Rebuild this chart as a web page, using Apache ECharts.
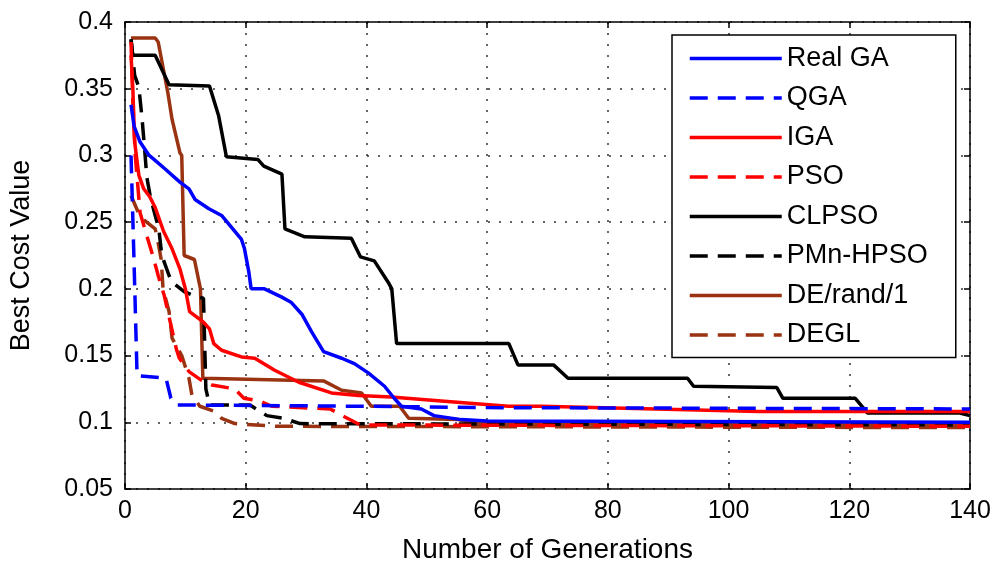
<!DOCTYPE html>
<html><head><meta charset="utf-8">
<script src="https://cdn.jsdelivr.net/npm/echarts@6/dist/echarts.min.js"></script>
<style>html,body{margin:0;padding:0;background:#fff}#c{width:997px;height:569px}</style>
</head><body><div id="c"></div>
<script>
const seriesNames = ['Real GA','QGA','IGA','PSO','CLPSO','PMn-HPSO','DE/rand/1','DEGL'];
const xTicks = [0,20,40,60,80,100,120,140];
const yTicks = [0.05,0.1,0.15,0.2,0.25,0.3,0.35,0.4];

const realGA = [[1,0.338],[1.5,0.322],[2.5,0.31],[4,0.3],[4.8,0.297],[6.6,0.29],[9.1,0.28],[10.6,0.275],[11.6,0.267],[13.9,0.26],[16,0.255],[18.2,0.243],[19.3,0.237],[19.8,0.23],[20.5,0.213],[20.9,0.2],[23.1,0.2],[25.9,0.194],[27.5,0.19],[29.3,0.181],[30.9,0.168],[32.9,0.153],[35.9,0.148],[38,0.144],[40.3,0.137],[43,0.127],[44.6,0.118],[45.8,0.112],[49.1,0.11],[51.2,0.105],[55.7,0.102],[60,0.101],[140,0.1]];
const qga = [[1,0.3],[1.5,0.22],[2,0.135],[6.8,0.133],[7.6,0.118],[8.5,0.113],[40,0.112],[60,0.111],[140,0.11]];
const iga = [[1,0.375],[1.3,0.35],[1.6,0.31],[2.3,0.285],[3.1,0.275],[4.1,0.269],[5,0.261],[6.4,0.243],[7.8,0.23],[9.1,0.215],[10,0.2],[10.7,0.183],[13,0.175],[14,0.17],[14.7,0.159],[16,0.154],[19.3,0.149],[21.5,0.148],[24.8,0.139],[28.8,0.13],[34.2,0.122],[38.7,0.12],[44.1,0.119],[52.4,0.116],[63.5,0.112],[69,0.112],[105,0.108],[140,0.108]];
const pso = [[1,0.385],[1.3,0.34],[1.7,0.3],[2.5,0.257],[3.6,0.24],[4.6,0.225],[5.5,0.21],[6.5,0.195],[7.5,0.175],[8.5,0.155],[9,0.148],[10.6,0.138],[12.5,0.132],[14.4,0.128],[18.2,0.125],[19.7,0.118],[22.3,0.116],[24.3,0.112],[34,0.11],[36,0.105],[39,0.098],[140,0.097]];
const clpso = [[1,0.387],[1.3,0.375],[5,0.375],[7.3,0.353],[14,0.352],[15.5,0.33],[16.8,0.299],[22,0.297],[23,0.292],[26,0.286],[26.5,0.245],[29.8,0.239],[37.5,0.238],[39,0.224],[41.3,0.221],[43.6,0.205],[44.2,0.2],[45,0.159],[63.6,0.159],[65.1,0.143],[71,0.143],[73.4,0.133],[93.2,0.133],[94.2,0.127],[108,0.126],[109,0.118],[121,0.118],[123,0.107],[138.3,0.107],[140,0.105]];
const pmnHpso = [[1,0.387],[1.6,0.36],[2.3,0.351],[2.8,0.329],[3.3,0.302],[3.6,0.284],[4.2,0.269],[5,0.255],[5.6,0.245],[6.1,0.225],[7.3,0.21],[7.8,0.205],[9.8,0.198],[11.9,0.194],[13,0.193],[13.4,0.125],[14,0.113],[20.7,0.113],[23.5,0.105],[26.3,0.103],[29,0.099],[140,0.098]];
const deRand1 = [[1,0.388],[5,0.388],[5.5,0.385],[7.1,0.347],[7.8,0.327],[9.1,0.302],[9.4,0.3],[9.8,0.225],[11.5,0.222],[12.5,0.2],[12.9,0.133],[32.9,0.131],[35.9,0.124],[39.2,0.122],[40.8,0.112],[45.5,0.112],[47,0.103],[55.2,0.102],[58,0.099],[140,0.098]];
const degl = [[1,0.27],[2.5,0.254],[5,0.245],[5.6,0.232],[6,0.222],[6.3,0.2],[7.3,0.183],[7.8,0.163],[9.4,0.15],[10.6,0.133],[11.1,0.12],[12.4,0.112],[14.9,0.108],[16,0.103],[18.2,0.099],[25,0.097],[140,0.096]];

const seriesData = [realGA,qga,iga,pso,clpso,pmnHpso,deRand1,degl];
const colors = ['#0000ff','#0000ff','#ff0000','#ff0000','#000000','#000000','#9a3312','#9a3312'];
const dashed = [false,true,false,true,false,true,false,true];

const FONT = "'Liberation Sans', Arial, sans-serif";
const chart = echarts.init(document.getElementById('c'));
const gridLine = {show:true, lineStyle:{color:'#333', type:[2,9], width:1.5}};
const axisLine = {show:true, onZero:false, lineStyle:{color:'#000', width:1.5}};
const tick = {show:true, inside:true, length:6, lineStyle:{color:'#000', width:1.5}};

chart.setOption({
  animation:false,
  backgroundColor:'#fff',
  grid:{left:123, right:27, top:22, bottom:78, containLabel:false},
  xAxis:[
    {type:'value', min:0, max:140, interval:20, position:'bottom',
     axisLine:axisLine, axisTick:tick, splitLine:gridLine,
     axisLabel:{color:'#000', fontSize:25, fontFamily:FONT, margin:10},
     name:'Number of Generations', nameLocation:'middle', nameGap:47,
     nameTextStyle:{color:'#000', fontSize:28, fontFamily:FONT}},
    {type:'value', min:0, max:140, interval:20, position:'top',
     axisLine:axisLine, axisTick:tick, splitLine:{show:false}, axisLabel:{show:false}}
  ],
  yAxis:[
    {type:'value', min:0.05, max:0.4, interval:0.05, position:'left',
     axisLine:axisLine, axisTick:tick, splitLine:gridLine,
     axisLabel:{color:'#000', fontSize:25, fontFamily:FONT, margin:12,
       formatter:v=>String(+v.toFixed(2))},
     name:'Best Cost Value', nameLocation:'middle', nameGap:90, nameRotate:90,
     nameTextStyle:{color:'#000', fontSize:27, fontFamily:FONT}},
    {type:'value', min:0.05, max:0.4, interval:0.05, position:'right',
     axisLine:axisLine, axisTick:tick, splitLine:{show:false}, axisLabel:{show:false}}
  ],
  legend:{
    orient:'vertical', left:672, top:35,
    backgroundColor:'#fff', borderColor:'#000', borderWidth:1.5, borderRadius:0,
    padding:[10,28,9,16], itemWidth:92, itemHeight:18, itemGap:12.5,
    itemStyle:{opacity:0},
    lineStyle:{width:3.5},
    textStyle:{color:'#000', fontSize:27, fontFamily:FONT},
    data:seriesNames
  },
  series: seriesNames.map((n,i)=>({
    name:n, type:'line', data:seriesData[i], symbol:'none', z: 10-i,
    lineStyle:{color:colors[i], width:3.5, type: dashed[i] ? [18,10] : 'solid'},
    itemStyle:{color:colors[i]}
  }))
});
</script></body></html>
